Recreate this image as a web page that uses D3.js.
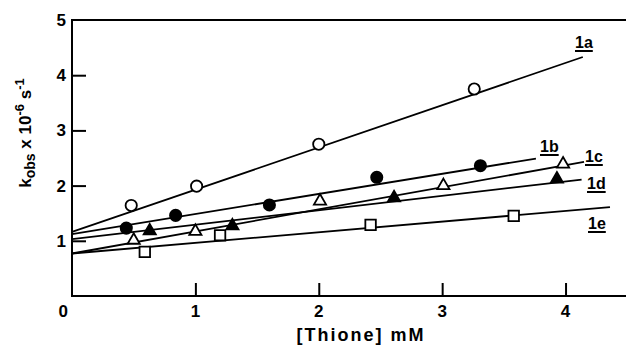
<!DOCTYPE html>
<html><head><meta charset="utf-8">
<script src="https://cdn.jsdelivr.net/npm/d3@7"></script>
<style>body{margin:0;background:#fff}svg{display:block}text{font-family:"Liberation Sans",Arial,sans-serif;fill:#000}</style>
</head><body><svg id="c" width="626" height="350"></svg>
<script>
// Data
const seriesNames = ["1a","1b","1c","1d","1e"];
const xA = [0.48, 1.01, 2.0, 3.26];
const yA = [1.64, 1.99, 2.75, 3.75];
const xB = [0.44, 0.84, 1.60, 2.47, 3.31];
const yB = [1.23, 1.46, 1.65, 2.15, 2.36];
const xC = [0.50, 1.00, 2.01, 3.01, 3.98];
const yC = [1.01, 1.17, 1.72, 2.00, 2.39];
const xD = [0.63, 1.30, 2.61, 3.93];
const yD = [1.18, 1.27, 1.78, 2.12];
const xE = [0.59, 1.20, 2.42, 3.58];
const yE = [0.80, 1.10, 1.29, 1.45];
// fitted lines: [x start, y start, x end, y end]
const lineA = [0, 1.16, 4.14, 4.33];
const lineB = [0, 1.12, 3.76, 2.49];
const lineC = [0, 0.77, 4.15, 2.43];
const lineD = [0, 1.03, 4.13, 2.11];
const lineE = [0, 0.77, 4.36, 1.61];
const xTicks = [1, 2, 3, 4];
const yTicks = [1, 2, 3, 4, 5];

const svg = d3.select("#c");
const x = d3.scaleLinear().domain([0, 4.49]).range([72, 626]);
const y = d3.scaleLinear().domain([0, 5]).range([296, 20]);

const series = [
  {name:"1a", xs:xA, ys:yA, line:lineA, sym:d3.symbolCircle, size:100, fill:"#fff"},
  {name:"1b", xs:xB, ys:yB, line:lineB, sym:d3.symbolCircle, size:100, fill:"#000"},
  {name:"1c", xs:xC, ys:yC, line:lineC, sym:d3.symbolTriangle, size:64, fill:"#fff"},
  {name:"1d", xs:xD, ys:yD, line:lineD, sym:d3.symbolTriangle, size:64, fill:"#000"},
  {name:"1e", xs:xE, ys:yE, line:lineE, sym:d3.symbolSquare, size:110, fill:"#fff"}
];
const labelPos = {"1a":[575,48],"1b":[540,152],"1c":[585,162],"1d":[587,189],"1e":[588,229]};

// frame
svg.append("line").attr("x1",72).attr("x2",626).attr("y1",20).attr("y2",20).attr("stroke","#000").attr("stroke-width",2);
svg.append("line").attr("x1",72).attr("x2",626).attr("y1",296).attr("y2",296).attr("stroke","#000").attr("stroke-width",2);
svg.append("line").attr("x1",72).attr("x2",72).attr("y1",19).attr("y2",297).attr("stroke","#000").attr("stroke-width",2);

// axes
const xAxis = d3.axisTop(x).tickValues(xTicks).tickSize(13).tickFormat("");
const gx = svg.append("g").attr("transform","translate(0,296)").call(xAxis);
gx.select(".domain").remove();
gx.selectAll(".tick line").attr("stroke-width",2);
svg.selectAll(".xl").data(xTicks).enter().append("text").attr("class","xl")
  .attr("x",d=>x(d)).attr("y",317).attr("text-anchor","middle").attr("font-size",17).attr("font-weight","bold").text(d=>d);

const yAxis = d3.axisRight(y).tickValues(yTicks.filter(d=>d<5)).tickSize(14).tickFormat("");
const gy = svg.append("g").attr("transform","translate(72,0)").call(yAxis);
gy.select(".domain").remove();
gy.selectAll(".tick line").attr("stroke-width",2);
svg.selectAll(".yl").data(yTicks).enter().append("text").attr("class","yl")
  .attr("x",66).attr("y",d=>y(d)+6).attr("text-anchor","end").attr("font-size",17).attr("font-weight","bold").text(d=>d);
svg.append("text").attr("x",68).attr("y",317).attr("text-anchor","end").attr("font-size",17).attr("font-weight","bold").text("0");

// lines
series.forEach(s=>{
  svg.append("line").attr("x1",x(s.line[0])).attr("y1",y(s.line[1]))
    .attr("x2",x(s.line[2])).attr("y2",y(s.line[3])).attr("stroke","#000").attr("stroke-width",1.8);
});
// markers
series.forEach(s=>{
  const pts = s.xs.map((v,i)=>[v,s.ys[i]]);
  svg.selectAll(null).data(pts).enter().append("path")
    .attr("d", d3.symbol().type(s.sym).size(s.size))
    .attr("transform", d=>`translate(${x(d[0])},${y(d[1])})`)
    .attr("fill", s.fill).attr("stroke","#000").attr("stroke-width",1.8);
  const p = labelPos[s.name];
  const t = svg.append("text").attr("x",p[0]).attr("y",p[1]).attr("font-size",16).attr("font-weight","bold").text(s.name);
  const w = t.node().getComputedTextLength();
  svg.append("line").attr("x1",p[0]).attr("x2",p[0]+w).attr("y1",p[1]+3).attr("y2",p[1]+3).attr("stroke","#000").attr("stroke-width",2);
});

// axis titles
svg.append("text").attr("x",361).attr("y",341).attr("text-anchor","middle").attr("font-size",18)
  .attr("letter-spacing",2).attr("font-weight","bold").text("[Thione] mM");
const yt = svg.append("text").attr("transform","translate(31,133) rotate(-90)").attr("text-anchor","middle").attr("font-size",17).attr("font-weight","bold");
yt.append("tspan").text("k");
yt.append("tspan").attr("font-size",14).attr("dy",4).text("obs");
yt.append("tspan").attr("dy",-4).text(" x 10");
yt.append("tspan").attr("font-size",13).attr("dy",-7).text("-6");
yt.append("tspan").attr("dy",7).text(" s");
yt.append("tspan").attr("font-size",13).attr("dy",-7).text("-1");
</script></body></html>
